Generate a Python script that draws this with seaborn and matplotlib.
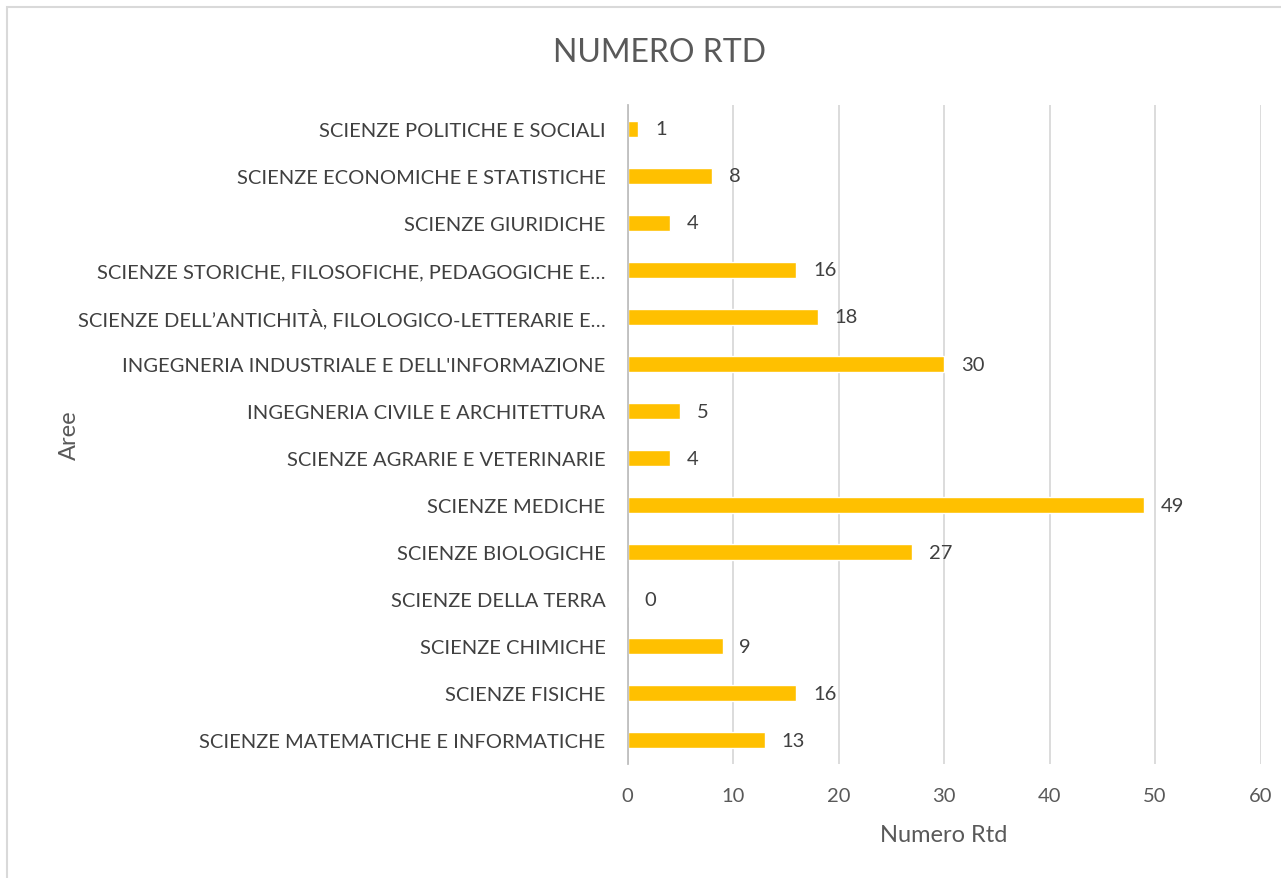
import matplotlib
matplotlib.use("Agg")
import matplotlib.pyplot as plt
import seaborn as sns
from matplotlib.patches import Rectangle

# Aree e numero di RTD, dall'alto verso il basso
aree = [
    "SCIENZE POLITICHE E SOCIALI",
    "SCIENZE ECONOMICHE E STATISTICHE",
    "SCIENZE GIURIDICHE",
    "SCIENZE STORICHE, FILOSOFICHE, PEDAGOGICHE E…",
    "SCIENZE DELL’ANTICHITÀ, FILOLOGICO-LETTERARIE E…",
    "INGEGNERIA INDUSTRIALE E DELL'INFORMAZIONE",
    "INGEGNERIA CIVILE E ARCHITETTURA",
    "SCIENZE AGRARIE E VETERINARIE",
    "SCIENZE MEDICHE",
    "SCIENZE BIOLOGICHE",
    "SCIENZE DELLA TERRA",
    "SCIENZE CHIMICHE",
    "SCIENZE FISICHE",
    "SCIENZE MATEMATICHE E INFORMATICHE",
]
numero_rtd = [1, 8, 4, 16, 18, 30, 5, 4, 49, 27, 0, 9, 16, 13]
x_ticks = [0, 10, 20, 30, 40, 50, 60]

sns.set_theme(style="white")
plt.rcParams["font.family"] = ["Lato", "DejaVu Sans"]

fig = plt.figure(figsize=(12.81, 8.79), dpi=100)
ax = fig.add_axes([0.490, 0.130, 0.494, 0.749])

sns.barplot(x=numero_rtd, y=aree, orient="h", color="#FFC000",
            saturation=1, width=0.35, ax=ax)

ax.bar_label(ax.containers[0], padding=12, fontsize=14.5, color="#404040")

ax.set_xlim(0, 60)
ax.set_xticks(x_ticks)
ax.grid(axis="x", color="#D9D9D9", linewidth=1.3)
ax.set_axisbelow(True)
for side in ["top", "right", "bottom"]:
    ax.spines[side].set_visible(False)
ax.spines["left"].set_color("#BFBFBF")
ax.spines["left"].set_linewidth(1.3)

ax.tick_params(axis="y", length=0, pad=16, labelsize=14.5, labelcolor="#404040")
ax.tick_params(axis="x", length=0, pad=17, labelsize=14.5, labelcolor="#595959")

ax.set_xlabel("Numero Rtd", fontsize=17, color="#595959", labelpad=14)
ax.set_ylabel("Aree", fontsize=17, color="#595959")
ax.yaxis.set_label_coords(-0.865, 0.5)

fig.text(0.515, 0.94, "NUMERO RTD", ha="center", va="center",
         fontsize=23, color="#595959")

# cornice del grafico
fig.patches.append(Rectangle((0.0055, -0.1), 1.2, 1.091, transform=fig.transFigure,
                             fill=False, edgecolor="#D9D9D9", linewidth=1.5))

fig.savefig("out.png", dpi=100)
